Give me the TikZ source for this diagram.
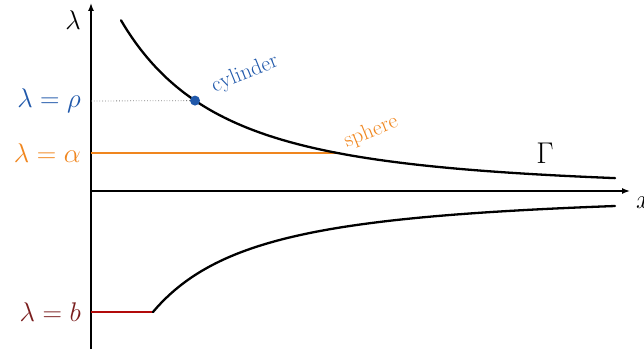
\documentclass[tikz,border=0pt]{standalone}
\usepackage{fix-cm}
\usetikzlibrary{arrows.meta}
\definecolor{cylblue}{RGB}{32,88,170}
\definecolor{sphorange}{RGB}{240,134,30}
\definecolor{bred}{RGB}{122,30,30}
\definecolor{linered}{RGB}{178,10,10}
\begin{document}
\begin{tikzpicture}[x=1pt,y=-1pt,
  axis/.style={line width=1.4pt,-{Latex[length=8pt,width=6pt]}},
  branch/.style={line width=2.3pt,line cap=round},
  lbl/.style={font=\fontsize{27}{30}\selectfont,anchor=east,inner sep=0pt},
  tag/.style={font=\fontsize{22}{25}\selectfont,rotate=22,inner sep=0pt}]
\useasboundingbox (0,0) rectangle (644,352);
% axes
\coordinate (o) at (91,191);
\coordinate (ybot) at (91,349);
\coordinate (ytop) at (91,3);
\coordinate (xend) at (630,191);
\draw[axis] (ybot) -- (ytop);
\draw[axis] (o) -- (xend);
\node[font=\fontsize{27}{30}\selectfont,inner sep=0pt] (ylab) at (73,20) {$\lambda$};
\node[font=\fontsize{27}{30}\selectfont,inner sep=0pt,anchor=west] (xlab) at (636,203) {$x$};
% marked levels
\coordinate (rho0) at (91,101);
\coordinate (alp0) at (91,153);
\coordinate (b0) at (91,312);
\coordinate (cyl) at (195,100.6);
\coordinate (sph) at (340,153);
\coordinate (bend) at (153,312);
\draw[gray,dotted,line width=0.8pt] (rho0) -- (cyl);
\draw[sphorange,line width=2.6pt] (alp0) -- (sph);
\draw[linered,line width=2.6pt] (b0) -- (bend);
% upper branch
\draw[branch] plot[domain=121:615,samples=120,smooth]
  (\x,{191-169*(222/(\x+100))^2.2});
% lower branch
\draw[branch] plot[domain=153:615,samples=120,smooth]
  (\x,{191+121*(153/\x)^1.5});
\fill[cylblue] (cyl) circle (5pt);
% labels
\node[lbl,text=cylblue] (lrho) at (81,101) {$\lambda=\rho$};
\node[lbl,text=sphorange] (lalp) at (81,153) {$\lambda=\alpha$};
\node[lbl,text=bred] (lb) at (81,312) {$\lambda=b$};
\node[tag,text=cylblue] (tcyl) at (245,74) {cylinder};
\node[tag,text=sphorange] (tsph) at (371,132) {sphere};
\node[font=\fontsize{30}{33}\selectfont,inner sep=0pt] (gam) at (545,153) {$\Gamma$};
\end{tikzpicture}
\end{document}
